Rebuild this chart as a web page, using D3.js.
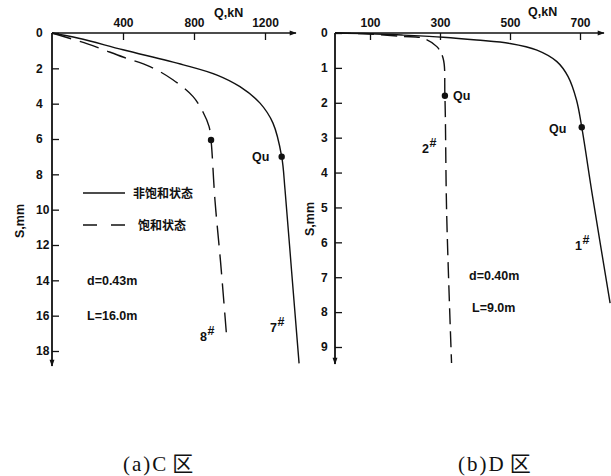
<!DOCTYPE html>
<html>
<head>
<meta charset="utf-8">
<script src="https://cdn.jsdelivr.net/npm/d3@7"></script>
<style>
  html, body { margin: 0; padding: 0; background: #fff; }
  svg { display: block; }
  .tick text { font-family: "Liberation Sans", Arial, sans-serif; font-weight: bold; font-size: 12px; fill: #111; }
  .lbl { font-family: "Liberation Sans", Arial, sans-serif; font-weight: bold; font-size: 12.5px; fill: #111; }
  .cjk { font-family: "Noto Sans CJK SC", sans-serif; font-weight: bold; font-size: 12px; fill: #111; }
  .cap { font-family: "Liberation Serif", "Noto Sans CJK SC", serif; font-size: 21px; letter-spacing: 2px; fill: #111; }
</style>
</head>
<body>
<svg id="chart" width="611" height="476"></svg>
<script>
// Panel (a): C zone, Q-S curves (load Q in kN, settlement S in mm)
const qTicksA = [400, 800, 1200];
const sTicksA = [0, 2, 4, 6, 8, 10, 12, 14, 16, 18];
// pile 7#, unsaturated state
const pile7 = [[0,0],[150,0.3],[400,0.95],[740,1.8],[930,2.38],[1059,3.04],[1172,3.97],[1245,5.1],[1294,7.0],[1313,8.9],[1350,13.5],[1392,18.7]];
// pile 8#, saturated state
const pile8 = [[0,0],[200,0.62],[400,1.36],[552,1.9],[683,2.66],[795,3.6],[852,4.5],[885,5.3],[896,6.06],[918,9.45],[950,13.0],[984,17.2]];
const quA = [{q: 1294, s: 7.0}, {q: 896, s: 6.06}];

// Panel (b): D zone
const qTicksB = [100, 300, 500, 700];
const sTicksB = [0, 1, 2, 3, 4, 5, 6, 7, 8, 9];
// pile 1#
const pile1 = [[0,0],[100,0.02],[195,0.06],[309,0.12],[405,0.2],[500,0.3],[577,0.49],[634,0.82],[666,1.25],[690,1.92],[705,2.7],[736,4.69],[786,7.74]];
// pile 2#
const pile2 = [[0,0],[100,0.03],[194,0.1],[252,0.15],[291,0.39],[309,0.73],[314,1.8],[319,5.16],[333,9.46]];
const quB = [{q: 705, s: 2.7}, {q: 314, s: 1.8}];

const svg = d3.select("#chart");
const defs = svg.append("defs");
defs.append("marker").attr("id", "arr").attr("viewBox", "0 0 10 10")
  .attr("refX", 9).attr("refY", 5).attr("markerWidth", 9).attr("markerHeight", 7)
  .attr("markerUnits", "userSpaceOnUse").attr("orient", "auto")
  .append("path").attr("d", "M0,1.5 L10,5 L0,8.5 Z").attr("fill", "#111");

const ink = "#111";

function panel(cfg) {
  const g = svg.append("g");
  const x = d3.scaleLinear().domain(cfg.xDomain).range(cfg.xRange);
  const y = d3.scaleLinear().domain(cfg.yDomain).range(cfg.yRange);

  // axis lines with arrowheads
  g.append("line").attr("x1", x(0)).attr("y1", y(0)).attr("x2", cfg.xEnd).attr("y2", y(0))
    .attr("stroke", ink).attr("stroke-width", 1.5).attr("marker-end", "url(#arr)");
  g.append("line").attr("x1", x(0)).attr("y1", y(0)).attr("x2", x(0)).attr("y2", cfg.yEnd)
    .attr("stroke", ink).attr("stroke-width", 1.8).attr("marker-end", "url(#arr)");

  const xa = g.append("g").attr("transform", `translate(0,${y(0)})`)
    .call(d3.axisTop(x).tickValues(cfg.xTicks).tickFormat(d3.format("d"))
      .tickSize(-7).tickPadding(6).tickSizeOuter(0));
  xa.select(".domain").remove();
  xa.selectAll(".tick line").attr("stroke", ink).attr("stroke-width", 1.3);

  const ya = g.append("g").attr("transform", `translate(${x(0)},0)`)
    .call(d3.axisLeft(y).tickValues(cfg.yTicks).tickFormat(d3.format("d"))
      .tickSize(-7).tickSizeOuter(0));
  ya.select(".domain").remove();
  ya.selectAll(".tick line").attr("stroke", ink).attr("stroke-width", 1.3);
  ya.selectAll(".tick text").attr("text-anchor", "start").attr("x", cfg.yLabelDx);

  // axis titles
  g.append("text").attr("class", "lbl").attr("x", cfg.qTitle[0]).attr("y", cfg.qTitle[1]).text("Q,kN");
  g.append("text").attr("class", "lbl")
    .attr("transform", `translate(${cfg.sTitle[0]},${cfg.sTitle[1]}) rotate(-90)`)
    .attr("text-anchor", "middle").text("S,mm");

  const line = d3.line().x(d => x(d[0])).y(d => y(d[1])).curve(d3.curveCatmullRom.alpha(0.5));
  cfg.curves.forEach(c => {
    g.append("path").attr("d", line(c.data)).attr("fill", "none")
      .attr("stroke", ink).attr("stroke-width", 1.4)
      .attr("stroke-dasharray", c.dash || null);
  });
  cfg.points.forEach(p => {
    g.append("circle").attr("cx", x(p.q)).attr("cy", y(p.s)).attr("r", 3.2).attr("fill", ink);
  });
  return {g, x, y};
}

// pile number label with superscript mark
function pileLabel(g, x, y, num) {
  g.append("text").attr("class", "lbl").attr("x", x).attr("y", y).text(num);
  g.append("text").attr("class", "lbl").attr("x", x + 7.5).attr("y", y - 6).attr("font-size", 9).text("#");
}

// caption: panel letter and zone name, with a narrow gap before the zone character
function caption(x, y, head, tail) {
  const t = svg.append("text").attr("class", "cap").attr("x", x).attr("y", y);
  t.append("tspan").text(head);
  t.append("tspan").attr("dx", 4).attr("letter-spacing", 0).text(tail);
}

// Panel (a)
const A = panel({
  xDomain: [0, 1200], xRange: [52, 265], yDomain: [0, 18], yRange: [33, 351],
  xEnd: 296, yEnd: 366, xTicks: qTicksA, yTicks: sTicksA, yLabelDx: -16,
  qTitle: [214, 17], sTitle: [24, 221],
  curves: [{data: pile7}, {data: pile8, dash: "20,9"}],
  points: quA
});
A.g.append("text").attr("class", "lbl").attr("x", 252).attr("y", 161).text("Qu");
pileLabel(A.g, 200, 341, "8");
pileLabel(A.g, 270, 332, "7");
// legend
A.g.append("line").attr("x1", 83).attr("x2", 125).attr("y1", 193).attr("y2", 193).attr("stroke", ink).attr("stroke-width", 1.4);
A.g.append("text").attr("class", "cjk").attr("x", 133).attr("y", 197.5).text("非饱和状态");
A.g.append("line").attr("x1", 83).attr("x2", 125).attr("y1", 225).attr("y2", 225).attr("stroke", ink).attr("stroke-width", 1.4).attr("stroke-dasharray", "14,14");
A.g.append("text").attr("class", "cjk").attr("x", 138).attr("y", 229.5).text("饱和状态");
A.g.append("text").attr("class", "lbl").attr("x", 87).attr("y", 285).text("d=0.43m");
A.g.append("text").attr("class", "lbl").attr("x", 87).attr("y", 320).text("L=16.0m");

// Panel (b)
const B = panel({
  xDomain: [0, 700], xRange: [335, 580], yDomain: [0, 9], yRange: [33, 347],
  xEnd: 604, yEnd: 364, xTicks: qTicksB, yTicks: sTicksB, yLabelDx: -14,
  qTitle: [528, 16], sTitle: [314, 219],
  curves: [{data: pile1}, {data: pile2, dash: "16,7"}],
  points: quB
});
B.g.append("text").attr("class", "lbl").attr("x", 453).attr("y", 100).text("Qu");
B.g.append("text").attr("class", "lbl").attr("x", 549).attr("y", 133).text("Qu");
pileLabel(B.g, 422, 153, "2");
pileLabel(B.g, 575, 250, "1");
B.g.append("text").attr("class", "lbl").attr("x", 469).attr("y", 280).text("d=0.40m");
B.g.append("text").attr("class", "lbl").attr("x", 472).attr("y", 312).text("L=9.0m");

// captions
caption(123, 471, "(a)C", "区");
caption(458, 471, "(b)D", "区");
</script>
</body>
</html>
